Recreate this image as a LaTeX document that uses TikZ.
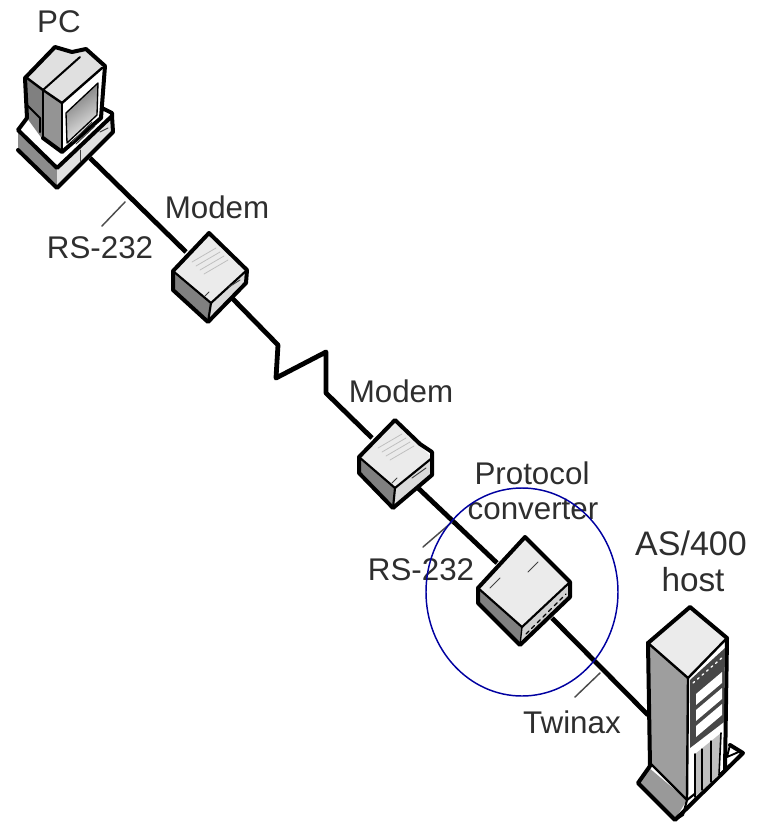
\documentclass[tikz,border=0pt]{standalone}
\usepackage{fontspec}
\setmainfont{Liberation Sans}
\usetikzlibrary{calc}
\begin{document}
\begin{tikzpicture}[x=0.75pt,y=-0.75pt,line join=round,line cap=round,
  outl/.style={draw=black,line width=3pt},
  thin detail/.style={draw=black!75,line width=0.7pt},
  cable/.style={draw=black,line width=3.6pt,line cap=butt},
  leader/.style={draw=black!70,line width=1.1pt},
  lbl/.style={text=black!82,font=\fontsize{23.5}{28}\selectfont,align=center,inner sep=0pt}]
\useasboundingbox (0,0) rectangle (757,822);

% named ends of the connectors
\coordinate (pcport) at (90,158);
\coordinate (m1in) at (186,252);
\coordinate (m1out) at (232,298);
\coordinate (z1) at (278,345);
\coordinate (z2) at (276,378);
\coordinate (z3) at (326,352);
\coordinate (z4) at (326,393);
\coordinate (m2in) at (372,438);
\coordinate (m2out) at (417,487);
\coordinate (pcin) at (497,563);
\coordinate (pcout) at (552,618);
\coordinate (hostin) at (648,715);
\coordinate (l1a) at (125,202);
\coordinate (l1b) at (102,226);
\coordinate (l2a) at (452,522);
\coordinate (l2b) at (423,547);
\coordinate (l3a) at (600,673);
\coordinate (l3b) at (575,697);

% cables
\draw[cable] (pcport) -- (m1in);
\draw[cable] (m1out) -- (z1) -- (z2) -- (z3) -- (z4) -- (m2in);
\draw[cable] (m2out) -- (pcin);
\draw[cable] (pcout) -- (hostin);
\draw[leader] (l1a) -- (l1b);
\draw[leader] (l2a) -- (l2b);
\draw[leader] (l3a) -- (l3b);

% PC base
\fill[white] (18,130) -- (30,112) -- (100,105) -- (112,112) -- (113,132) -- (57,188) -- (18,150) -- cycle;
\fill[black!45] (18,132) -- (57,168) -- (57,188) -- (18,150) -- cycle;
\fill[black!12] (57,168) -- (112,118) -- (113,132) -- (57,188) -- cycle;
\draw[outl] (30,114) -- (18,130) -- (57,168) -- (112,116) -- (113,132) -- (57,188) -- (18,150);
\draw[outl] (100,107) -- (112,113) -- (112,116);
\draw[thin detail] (80,150) -- (80,162);
\draw[thin detail] (100,132) -- (108,128);
% PC monitor
\fill[black!12] (27,77) -- (55,47) -- (72,52) -- (86,49) -- (105,66) -- (62,103) -- (43,90) -- cycle;
\fill[black!50] (27,77) -- (43,90) -- (43,140) -- (27,118) -- cycle;
\fill[black!42] (43,90) -- (62,103) -- (62,152) -- (43,138) -- cycle;
\fill[white] (62,103) -- (102,68) -- (101,118) -- (62,152) -- cycle;
\shade[left color=black!55,right color=black!5,shading angle=35] (66,113) -- (98,83) -- (97,115) -- (67,143) -- cycle;
\draw[outl] (27,118) -- (25,78) -- (55,47) -- (72,52) -- (86,49) -- (105,66) -- (101,118) -- (62,152) -- (43,138);
\draw[draw=black,line width=1.8pt] (27,78) -- (43,90) -- (62,103) -- (102,68);
\draw[draw=black,line width=1.5pt] (43,90) -- (80,57);
\draw[draw=black,line width=1.5pt] (43,90) -- (43,138);
\draw[draw=black,line width=1.8pt] (62,103) -- (62,152);
\draw[draw=black,line width=1pt] (66,113) -- (98,83) -- (97,115) -- (67,143) -- cycle;
\draw[thin detail] (72,142) -- (92,122);
\draw[thin detail] (76,144) -- (95,126);
\draw[draw=black,line width=1.5pt] (27,105) -- (40,118) -- (40,132);

% modem 1
\fill[black!50] (173,271) -- (211,303) -- (208,322) -- (173,290) -- cycle;
\fill[black!14] (211,303) -- (247,270) -- (246,283) -- (208,322) -- cycle;
\fill[black!8] (209,233) -- (247,270) -- (211,303) -- (173,271) -- cycle;
\draw[outl] (173,271) -- (209,233) -- (247,270) -- (246,283) -- (208,322) -- (173,290) -- cycle;
\draw[draw=black,line width=1.6pt] (173,271) -- (211,303) -- (247,270);
\draw[draw=black,line width=1.6pt] (211,303) -- (208,322);
\draw[thin detail] (205,296) -- (209,292);
\draw[thin detail] (229,287) -- (240,280);
\foreach \k in {0,4,8,12}{\draw[draw=black!25,line width=0.6pt] ($(192,262)+(\k,\k)$) -- ($(216,248)+(\k,\k)$);}

% modem 2
\fill[black!50] (359,457) -- (395,488) -- (393,508) -- (359,473) -- cycle;
\fill[black!14] (395,488) -- (432,458) -- (432,475) -- (393,508) -- cycle;
\fill[black!8] (395,420) -- (432,458) -- (395,488) -- (359,457) -- cycle;
\draw[outl] (359,457) -- (395,420) -- (420,444) -- (432,452) -- (432,475) -- (393,508) -- (359,473) -- cycle;
\draw[draw=black,line width=1.6pt] (359,457) -- (395,488) -- (432,458);
\draw[draw=black,line width=1.6pt] (395,488) -- (393,508);
\draw[thin detail] (392,483) -- (397,478);
\draw[thin detail] (412,478) -- (426,468);
\foreach \k in {0,4,8,12}{\draw[draw=black!25,line width=0.6pt] ($(378,448)+(\k,\k)$) -- ($(402,434)+(\k,\k)$);}

% protocol converter
\fill[black!50] (478,588) -- (522,627) -- (520,645) -- (478,603) -- cycle;
\fill[black!18] (522,627) -- (570,582) -- (570,597) -- (520,645) -- cycle;
\fill[black!8] (525,537) -- (570,582) -- (522,627) -- (478,588) -- cycle;
\draw[outl] (478,588) -- (525,537) -- (570,582) -- (570,597) -- (520,645) -- (478,603) -- cycle;
\draw[draw=black,line width=1.6pt] (478,588) -- (522,627) -- (570,582);
\draw[draw=black,line width=1pt] (522,627) -- (520,645);
\draw[draw=black,line width=1pt,dash pattern=on 3pt off 3pt] (526,634) -- (566,594);
\draw[thin detail] (490,588) -- (500,578);
\draw[thin detail] (528,572) -- (538,562);

% AS/400 host
\fill[black!38] (648,643) -- (688,678) -- (687,800) -- (650,763) -- cycle;
\fill[white] (688,678) -- (727,638) -- (725,770) -- (687,800) -- cycle;
\fill[black!8] (690,607) -- (727,638) -- (688,678) -- (648,643) -- cycle;
% foot
\fill[black!40] (648,767) -- (687,800) -- (683,815) -- (675,820) -- (638,783) -- cycle;
\fill[white] (687,800) -- (725,770) -- (743,753) -- (675,820) -- cycle;
\draw[outl] (648,643) -- (690,607) -- (727,638) -- (725,770);
\draw[outl] (648,643) -- (650,766) -- (638,783) -- (675,820) -- (743,753) -- (730,745);
\draw[draw=black,line width=1.8pt] (648,643) -- (688,678) -- (727,638);
\draw[draw=black,line width=1.8pt] (688,678) -- (687,800) -- (650,763);
\draw[draw=black,line width=1.6pt] (687,800) -- (683,815) -- (675,820);
\draw[draw=black,line width=1.6pt] (687,800) -- (725,770);
\draw[draw=black,line width=1.4pt] (730,745) -- (727,757) -- (741,751);
% front panel
\fill[black!72] (690,680) -- (725,648) -- (724,722) -- (690,748) -- cycle;
\foreach \k in {0,1,2}{
  \fill[white] ($(696,694)+(0,\k*16)$) -- ($(722,672)+(0,\k*16)$) -- ($(722,683)+(0,\k*16)$) -- ($(696,705)+(0,\k*16)$) -- cycle;
}
\draw[draw=white,line width=1pt,dash pattern=on 1.5pt off 3pt] (693,683) -- (724,656);
\fill[black!25] (695,754) -- (721,733) -- (719,775) -- (695,797) -- cycle;
\draw[draw=black,line width=1.2pt] (695,754) -- (695,797);
\draw[draw=black,line width=1pt] (702,749) -- (702,790);
\draw[draw=black,line width=1pt] (711,741) -- (711,782);
\draw[draw=black,line width=1.2pt] (721,733) -- (719,775);

% labels
\node[lbl] (tpc) at (59,22) {PC};
\node[lbl] (tm1) at (217,207) {Modem};
\node[lbl] (tr1) at (100,248) {RS-232};
\node[lbl] (tm2) at (401,391) {Modem};
\node[lbl] (tpr) at (532,473) {Protocol};
\node[lbl] (tco) at (533,510) {converter};
\node[lbl] (tr2) at (421,570) {RS-232};
\node[lbl,font=\fontsize{25.5}{30}\selectfont] (tas) at (691,543) {AS/400};
\node[lbl,font=\fontsize{25}{30}\selectfont] (tho) at (693,580) {host};
\node[lbl] (ttw) at (572,722) {Twinax};

% highlight circle
\draw[draw={rgb,255:red,0;green,0;blue,160},line width=1.1pt] (522,592) ellipse [x radius=96,y radius=104];
\end{tikzpicture}
\end{document}
